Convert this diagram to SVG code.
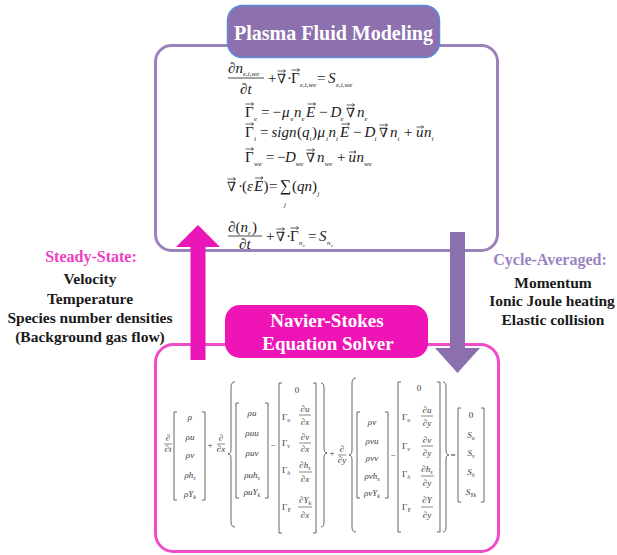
<svg xmlns="http://www.w3.org/2000/svg" width="617" height="555" viewBox="0 0 617 555">
<style>
.lbl{font-family:"Liberation Serif","DejaVu Serif",serif;font-weight:bold;text-anchor:middle}
.eq{font-family:"Liberation Serif","DejaVu Serif",serif;font-style:italic;font-size:15px;fill:#1a1a1a}
.up{font-style:normal}
.nb{font-style:normal;font-size:13px}
.s{font-size:7px}
.vec{stroke:#1a1a1a;stroke-width:0.7;fill:none}
.fl{stroke:#1a1a1a;stroke-width:0.8}
.be{font-family:"Liberation Serif","DejaVu Serif",serif;font-style:italic;font-size:9px;fill:#3a3a3a}
.bm{text-anchor:middle}
.bs{font-size:6px}
.br{stroke:#555;stroke-width:0.9;fill:none}
.bl{stroke:#555;stroke-width:0.7}
</style>
<rect width="617" height="555" fill="#fff"/>

<g id="plasma-container">
<rect x="155.5" y="45.5" width="342" height="205" rx="16" fill="none" stroke="#9b82bd" stroke-width="3"/>
</g>
<g id="navier-container">
<rect x="155.5" y="344.5" width="343" height="207" rx="18" fill="none" stroke="#f04cc8" stroke-width="3"/>
</g>

<g id="plasma-equations" class="eq">
<text x="228" y="73" class="up">∂</text><text x="235.5" y="73">n</text><text x="243" y="76" class="s">e,i,we</text>
<line x1="228" y1="78" x2="264" y2="78" class="fl"/>
<text x="240" y="94" class="up">∂<tspan font-style="italic">t</tspan></text>
<text x="268" y="83" class="up">+</text>
<text x="277" y="83" class="nb">∇</text>
<text x="287" y="83" class="up">·</text>
<text x="291" y="83" class="up">Γ</text><text x="300" y="87" class="s">e,i,we</text>
<text x="317" y="83" class="up">=</text>
<text x="328" y="83">S</text><text x="336" y="87" class="s">e,i,we</text>
<path class="vec" d="M277.5 71h8m-2-1.5l2 1.5l-2 1.5M291.5 70h8m-2-1.5l2 1.5l-2 1.5"/>

<text x="245" y="117" class="up">Γ</text><text x="254" y="121" class="s">e</text>
<text x="261" y="117" class="up">=</text>
<text x="272.5" y="117" class="up">−</text>
<text x="282" y="117">μ</text><text x="290.5" y="121" class="s">e</text>
<text x="294" y="117">n</text><text x="301.5" y="121" class="s">e</text>
<text x="306" y="117">E</text>
<text x="319" y="117" class="up">−</text>
<text x="330.5" y="117">D</text><text x="340.5" y="121" class="s">e</text>
<text x="346" y="117" class="nb">∇</text>
<text x="357" y="117">n</text><text x="364.5" y="121" class="s">e</text>
<path class="vec" d="M245.5 104h8m-2-1.5l2 1.5l-2 1.5M307.5 104h8m-2-1.5l2 1.5l-2 1.5M346.5 105h8m-2-1.5l2 1.5l-2 1.5"/>

<text x="245" y="137" class="up">Γ</text><text x="254" y="141" class="s">i</text>
<text x="260" y="137" class="up">=</text>
<text x="271.5" y="137">sign</text>
<text x="297" y="137" class="up">(</text>
<text x="302" y="137">q</text><text x="309.5" y="141" class="s">i</text>
<text x="312" y="137" class="up">)</text>
<text x="317.5" y="137">μ</text><text x="326" y="141" class="s">i</text>
<text x="328.5" y="137">n</text><text x="336" y="141" class="s">i</text>
<text x="340" y="137">E</text>
<text x="353" y="137" class="up">−</text>
<text x="364.5" y="137">D</text><text x="374.5" y="141" class="s">i</text>
<text x="379" y="137" class="nb">∇</text>
<text x="390" y="137">n</text><text x="397.5" y="141" class="s">i</text>
<text x="404" y="137" class="up">+</text>
<text x="416" y="137">u</text>
<text x="424" y="137">n</text><text x="431.5" y="141" class="s">i</text>
<path class="vec" d="M245.5 124h8m-2-1.5l2 1.5l-2 1.5M341.5 124h8m-2-1.5l2 1.5l-2 1.5M379.5 125h8m-2-1.5l2 1.5l-2 1.5M416.5 127h7m-2-1.5l2 1.5l-2 1.5"/>

<text x="245" y="162" class="up">Γ</text><text x="254" y="166" class="s">we</text>
<text x="266" y="162" class="up">=</text>
<text x="277" y="162" class="up">−</text>
<text x="285" y="162">D</text><text x="295.5" y="166" class="s">we</text>
<text x="306" y="162" class="nb">∇</text>
<text x="317" y="162">n</text><text x="324.5" y="166" class="s">we</text>
<text x="337" y="162" class="up">+</text>
<text x="348.5" y="162">u</text>
<text x="356.5" y="162">n</text><text x="364" y="166" class="s">we</text>
<path class="vec" d="M245.5 149h8m-2-1.5l2 1.5l-2 1.5M306.5 150h8m-2-1.5l2 1.5l-2 1.5M349 152h7m-2-1.5l2 1.5l-2 1.5"/>

<text x="227" y="191" class="nb">∇</text>
<text x="238" y="191" class="up">·</text>
<text x="242" y="191" class="up">(</text>
<text x="247" y="191">ε</text>
<text x="254" y="191">E</text>
<text x="263.5" y="191" class="up">)</text>
<text x="269" y="191" class="up">=</text>
<text x="280" y="191" class="up" font-size="16">∑</text>
<text x="284" y="207" class="s">j</text>
<text x="292" y="191" class="up">(</text>
<text x="297" y="191">qn</text>
<text x="312" y="191" class="up">)</text>
<text x="317.5" y="196" class="s">j</text>
<path class="vec" d="M227.5 179h8m-2-1.5l2 1.5l-2 1.5M255 178h8m-2-1.5l2 1.5l-2 1.5"/>

<text x="228" y="232" class="up">∂(</text><text x="240.5" y="232">n</text><text x="248" y="235" class="s">ε</text><text x="252" y="232" class="up">)</text>
<line x1="228" y1="236" x2="262" y2="236" class="fl"/>
<text x="239" y="249" class="up">∂<tspan font-style="italic">t</tspan></text>
<text x="266" y="241" class="up">+</text>
<text x="276" y="241" class="nb">∇</text>
<text x="286" y="241" class="up">·</text>
<text x="290" y="241" class="up">Γ</text><text x="299" y="245" class="s">n</text><text x="303" y="247" font-size="5">ε</text>
<text x="308" y="241" class="up">=</text>
<text x="319" y="241">S</text><text x="327" y="245" class="s">n</text><text x="331" y="247" font-size="5">ε</text>
<path class="vec" d="M276.5 229h8m-2-1.5l2 1.5l-2 1.5M290.5 228h8m-2-1.5l2 1.5l-2 1.5"/>
</g>

<g id="navier-equations" class="be">
<text x="168" y="441" class="bm up">∂</text><line x1="164" y1="444" x2="172" y2="444" class="bl"/><text x="168" y="452" class="bm">∂t</text>
<path class="br" d="M177 412h-3v88h3M202 412h3v88h-3"/>
<text x="190" y="420" class="bm">ρ</text>
<text x="190" y="440" class="bm">ρu</text>
<text x="190" y="458" class="bm">ρv</text>
<text x="190" y="478" class="bm">ρh<tspan class="bs" dy="2">s</tspan></text>
<text x="190" y="497" class="bm">ρY<tspan class="bs" dy="2">k</tspan></text>
<text x="210" y="448" class="bm up">+</text>
<text x="221" y="441" class="bm up">∂</text><line x1="217" y1="444" x2="225" y2="444" class="bl"/><text x="221" y="452" class="bm">∂x</text>
<path class="br" d="M235 382Q231 382 231 387V449Q231 454 228 454Q231 454 231 459V522Q231 527 235 527"/>
<path class="br" d="M239 403h-3v95h3M265 403h3v95h-3"/>
<text x="252" y="416" class="bm">ρu</text>
<text x="252" y="436" class="bm">ρuu</text>
<text x="252" y="456" class="bm">ρuv</text>
<text x="252" y="478" class="bm">ρuh<tspan class="bs" dy="2">s</tspan></text>
<text x="252" y="495" class="bm">ρuY<tspan class="bs" dy="2">k</tspan></text>
<text x="273" y="448" class="bm up">−</text>
<path class="br" d="M282 383h-3v150h3M313 383h3v150h-3"/>
<text x="297" y="393" class="bm up">0</text>
<text x="282" y="420" class="up">Γ<tspan class="bs" dy="2" font-style="italic">u</tspan></text>
<text x="305" y="412" class="bm">∂u</text><line x1="299" y1="415" x2="311" y2="415" class="bl"/><text x="305" y="425" class="bm">∂x</text>
<text x="282" y="446" class="up">Γ<tspan class="bs" dy="2" font-style="italic">v</tspan></text>
<text x="305" y="440" class="bm">∂v</text><line x1="299" y1="443" x2="311" y2="443" class="bl"/><text x="305" y="452" class="bm">∂x</text>
<text x="282" y="473" class="up">Γ<tspan class="bs" dy="2" font-style="italic">h</tspan></text>
<text x="305" y="468" class="bm">∂h<tspan class="bs" dy="2">s</tspan></text><line x1="299" y1="472" x2="312" y2="472" class="bl"/><text x="305" y="482" class="bm">∂x</text>
<text x="282" y="510" class="up">Γ<tspan class="bs" dy="2" font-style="italic">Y</tspan></text>
<text x="305" y="503" class="bm">∂Y<tspan class="bs" dy="2">k</tspan></text><line x1="298" y1="507" x2="312" y2="507" class="bl"/><text x="305" y="518" class="bm">∂x</text>
<path class="br" d="M321 383Q324 383 324 388V448Q324 453 327 453Q324 453 324 458V522Q324 527 321 527"/>
<text x="332" y="456" class="bm up">+</text>
<text x="342" y="452" class="bm up">∂</text><line x1="338" y1="455" x2="346" y2="455" class="bl"/><text x="342" y="463" class="bm">∂y</text>
<path class="br" d="M356 378Q352 378 352 383V450Q352 455 349 455Q352 455 352 460V527Q352 532 356 532"/>
<path class="br" d="M360 412h-3v86h3M385 412h3v86h-3"/>
<text x="372" y="425" class="bm">ρv</text>
<text x="372" y="444" class="bm">ρvu</text>
<text x="372" y="461" class="bm">ρvv</text>
<text x="372" y="479" class="bm">ρvh<tspan class="bs" dy="2">s</tspan></text>
<text x="372" y="496" class="bm">ρvY<tspan class="bs" dy="2">k</tspan></text>
<text x="393" y="458" class="bm up">−</text>
<path class="br" d="M401 382h-3v150h3M437 382h3v150h-3"/>
<text x="419" y="391" class="bm up">0</text>
<text x="402" y="420" class="up">Γ<tspan class="bs" dy="2" font-style="italic">u</tspan></text>
<text x="427" y="413" class="bm">∂u</text><line x1="421" y1="416" x2="433" y2="416" class="bl"/><text x="427" y="426" class="bm">∂y</text>
<text x="402" y="449" class="up">Γ<tspan class="bs" dy="2" font-style="italic">v</tspan></text>
<text x="427" y="443" class="bm">∂v</text><line x1="421" y1="446" x2="433" y2="446" class="bl"/><text x="427" y="456" class="bm">∂y</text>
<text x="402" y="477" class="up">Γ<tspan class="bs" dy="2" font-style="italic">h</tspan></text>
<text x="427" y="472" class="bm">∂h<tspan class="bs" dy="2">s</tspan></text><line x1="421" y1="476" x2="434" y2="476" class="bl"/><text x="427" y="486" class="bm">∂y</text>
<text x="402" y="510" class="up">Γ<tspan class="bs" dy="2" font-style="italic">Y</tspan></text>
<text x="427" y="503" class="bm">∂Y</text><line x1="421" y1="507" x2="433" y2="507" class="bl"/><text x="427" y="518" class="bm">∂y</text>
<path class="br" d="M443 382Q446 382 446 387V450Q446 455 449 455Q446 455 446 460V527Q446 532 443 532"/>
<text x="453" y="458" class="bm up">=</text>
<path class="br" d="M461 408h-3v94h3M481 408h3v94h-3"/>
<text x="471" y="418" class="bm up">0</text>
<text x="471" y="438" class="bm">S<tspan class="bs" dy="2">u</tspan></text>
<text x="471" y="456" class="bm">S<tspan class="bs" dy="2">v</tspan></text>
<text x="471" y="475" class="bm">S<tspan class="bs" dy="2">h</tspan></text>
<text x="471" y="495" class="bm">S<tspan class="bs" dy="2">Yk</tspan></text>
</g>

<g id="connectors">
<polygon id="arrow-steady" points="198,225 220,247 205.5,247 205.5,360 190.5,360 190.5,247 176,247" fill="#ea16b8"/>
<polygon id="arrow-cycle" points="450,232 465,232 465,348 480,348 457.5,373 435,348 450,348" fill="#8b70ad"/>
</g>

<g id="node-plasma">
<rect x="227.5" y="5.5" width="212" height="52" rx="15" fill="#8d70ae" stroke="#5b8bd9" stroke-width="1.5"/>
<text x="333.5" y="40" class="lbl" font-size="20" fill="#fff">Plasma Fluid Modeling</text>
</g>
<g id="node-navier">
<rect x="225" y="305" width="203" height="53" rx="15" fill="#ee14b5"/>
<text x="327" y="327" class="lbl" font-size="19" fill="#fff">Navier-Stokes</text>
<text x="328" y="350" class="lbl" font-size="19" fill="#fff">Equation Solver</text>
</g>

<g id="label-steady" class="lbl" font-size="15.5">
<text x="91" y="262" fill="#f03cc3" font-size="16">Steady-State:</text>
<text x="90" y="284" fill="#1a1a1a">Velocity</text>
<text x="90" y="304" fill="#1a1a1a">Temperature</text>
<text x="90" y="323" fill="#1a1a1a">Species number densities</text>
<text x="90" y="342" fill="#1a1a1a">(Background gas flow)</text>
</g>
<g id="label-cycle" class="lbl" font-size="15.5">
<text x="550" y="265" fill="#9b83bf" font-size="16">Cycle-Averaged:</text>
<text x="553" y="288" fill="#1a1a1a">Momentum</text>
<text x="552" y="306" fill="#1a1a1a">Ionic Joule heating</text>
<text x="553" y="325" fill="#1a1a1a">Elastic collision</text>
</g>
</svg>
